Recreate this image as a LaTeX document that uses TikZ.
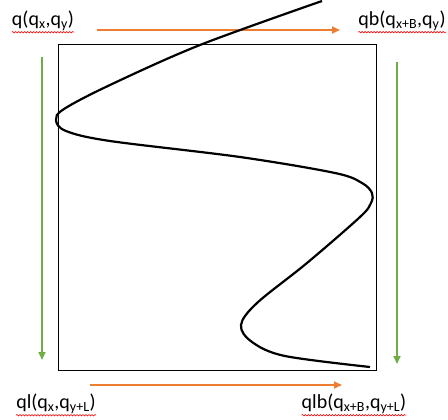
\documentclass[tikz,border=0pt]{standalone}
\usepackage{fontspec}
\setmainfont{Carlito}
\usetikzlibrary{arrows.meta,decorations.pathmorphing}
\begin{document}
\begin{tikzpicture}[x=1pt,y=-1pt,
  lbl/.style={inner sep=0pt,font=\fontsize{20}{22}\selectfont},
  harrow/.style={draw={rgb,255:red,237;green,125;blue,49},line width=1.8pt,-{Triangle[length=8pt,width=7pt]}},
  varrow/.style={draw={rgb,255:red,112;green,173;blue,71},line width=1.8pt,-{Triangle[length=8pt,width=7pt]}},
  squig/.style={draw=red,line width=0.6pt,decorate,decoration={snake,amplitude=0.7pt,segment length=3pt}}]
\useasboundingbox (0,0) rectangle (448,420);
\node[draw,line width=1.2pt,minimum width=318pt,minimum height=326pt,inner sep=0pt,anchor=north west] (box) at (58,44) {};
\node[lbl] (tl) at (43,21) {q(q\textsubscript{x},q\textsubscript{y})};
\node[lbl] (tr) at (402,21) {qb(q\textsubscript{x+B},q\textsubscript{y})};
\node[lbl] (bl) at (56,404) {ql(q\textsubscript{x},q\textsubscript{y+L})};
\node[lbl] (br) at (354,404) {qlb(q\textsubscript{x+B},q\textsubscript{y+L})};
\coordinate (a1) at (97,30); \coordinate (a2) at (340,30);
\coordinate (b1) at (90,385); \coordinate (b2) at (342,385);
\coordinate (c1) at (42,57); \coordinate (c2) at (42,360);
\coordinate (d1) at (397,62); \coordinate (d2) at (397,364);
\draw[harrow] (a1) -- (a2);
\draw[harrow] (b1) -- (b2);
\draw[varrow] (c1) -- (c2);
\draw[varrow] (d1) -- (d2);
\draw[squig] ([yshift=-1pt]tl.south west) -- ([yshift=-1pt]tl.south east);
\draw[squig] ([yshift=-1pt]tr.south west) -- ([yshift=-1pt]tr.south east);
\draw[squig] ([yshift=-1pt]bl.south west) -- ([yshift=-1pt]bl.south east);
\draw[squig] ([yshift=-1pt]br.south west) -- ([yshift=-1pt]br.south east);
\draw[line width=2.2pt] plot[smooth,tension=0.55] coordinates {(322,1) (200,45) (110,85) (64,109) (56,120) (66,131) (110,141) (240,157) (335,173) (362,183) (372,193) (371,203) (360,217) (307,263) (257,303) (241,325) (252,342) (285,356) (370,367)};
\end{tikzpicture}
\end{document}
